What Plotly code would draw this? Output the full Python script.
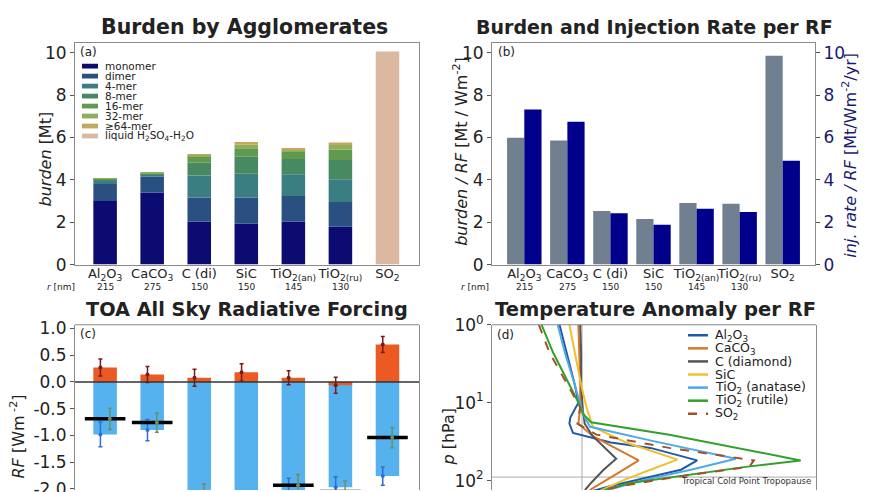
import plotly.graph_objects as go
import numpy as np

W, H = 870, 492
def X(px): return px / W
def Y(py): return 1 - py / H

FONT = "DejaVu Sans"
TXT = "#222222"

# ---------------- data ----------------
categories = ["Al<sub>2</sub>O<sub>3</sub>", "CaCO<sub>3</sub>", "C (di)", "SiC",
              "TiO<sub>2(an)</sub>", "TiO<sub>2(ru)</sub>", "SO<sub>2</sub>"]
radii_nm = ["215", "275", "150", "150", "145", "130", ""]

# (a) burden by agglomerates [Mt]
agg_labels = ["monomer", "dimer", "4-mer", "8-mer", "16-mer", "32-mer", "≥64-mer",
              "liquid H<sub>2</sub>SO<sub>4</sub>-H<sub>2</sub>O"]
monomer = [3.00, 3.40, 2.03, 1.93, 2.03, 1.78, 0]
dimer   = [0.80, 0.75, 1.14, 1.24, 1.21, 1.17, 0]
mer4    = [0.15, 0.10, 1.03, 1.12, 1.02, 1.08, 0]
mer8    = [0.07, 0.05, 0.60, 0.80, 0.72, 0.90, 0]
mer16   = [0.03, 0.02, 0.30, 0.40, 0.36, 0.49, 0]
mer32   = [0.02, 0.01, 0.08, 0.17, 0.09, 0.22, 0]
mer64   = [0.00, 0.00, 0.02, 0.12, 0.07, 0.12, 0]
liquid  = [0, 0, 0, 0, 0, 0, 10.05]
agg_colors = ["#0b0b72", "#2a5082", "#3a7e82", "#478a62", "#619a4e", "#8fae5e", "#c4a85e", "#dbb9a0"]

# (b) burden / RF and injection rate / RF
burden_per_rf  = [5.98, 5.86, 2.53, 2.15, 2.90, 2.87, 9.85]
injrate_per_rf = [7.32, 6.74, 2.42, 1.88, 2.63, 2.48, 4.90]

# (c) TOA all-sky radiative forcing [W m-2]
rf_lw      = [0.27, 0.14, 0.08, 0.18, 0.08, -0.06, 0.70]
rf_lw_err  = [0.16, 0.15, 0.16, 0.16, 0.13, 0.15, 0.15]
rf_sw      = [-0.98, -0.90, -2.60, -2.90, -2.05, -1.97, -1.76]
rf_sw_err  = [0.23, 0.20, 0.22, 0.25, 0.25, 0.20, 0.17]
rf_net     = [-0.69, -0.76, -2.10, -2.70, -1.93, -2.05, -1.04]
rf_net_err = [0.20, 0.18, 0.19, 0.20, 0.20, 0.20, 0.19]

# (d) temperature anomaly per RF profiles (x: anomaly, p: hPa)
al2o3_x = [-0.25, -0.17, -0.08, -0.04, -0.13, -0.14, -0.10, 0.32, 0.76, 1.28, 1.10, 0.69, 0.32, 0.13, 0.05]
al2o3_p = [1.0, 2.29, 5.89, 10.0, 15.5, 18.6, 24.5, 32.4, 38.0, 55.0, 72.4, 93.3, 117, 135, 150]
caco3_x = [-0.04, -0.03, -0.02, -0.02, -0.04, 0.12, 0.63, 0.39, 0.21, 0.10, 0.05]
caco3_p = [1.0, 2.29, 5.89, 11.5, 18.6, 26.9, 55.0, 81.3, 107, 129, 150]
cdia_x  = [-0.02, -0.01, -0.01, 0.01, 0.03, 0.12, 0.38, 0.24, 0.10, 0.04, 0.02]
cdia_p  = [1.0, 2.29, 5.89, 12.6, 18.6, 26.9, 52.5, 72.4, 107, 129, 150]
sic_x   = [-0.14, -0.08, -0.01, 0.05, 0.09, 0.12, 0.49, 1.06, 0.76, 0.47, 0.24, 0.12]
sic_p   = [1.0, 2.29, 5.89, 11.5, 15.5, 20.4, 32.4, 53.7, 72.4, 97.7, 129, 150]
tio2an_x = [-0.27, -0.19, -0.08, -0.01, 0.03, 0.09, 0.78, 1.71, 1.21, 0.69, 0.32, 0.15]
tio2an_p = [1.0, 2.29, 5.89, 11.5, 15.5, 20.4, 30.9, 52.5, 72.4, 97.7, 129, 150]
tio2ru_x = [-0.45, -0.32, -0.14, -0.03, 0.01, 0.10, 0.97, 1.23, 1.71, 2.43, 1.84, 1.06, 0.54, 0.28, 0.15]
tio2ru_p = [1.0, 2.29, 5.89, 10.5, 13.8, 17.8, 25.7, 29.5, 38.0, 55.0, 66.1, 89.1, 107, 129, 150]
so2_x   = [-0.48, -0.36, -0.16, -0.06, -0.02, -0.05, 0.16, 0.97, 1.91, 1.86, 1.06, 0.54, 0.24, 0.12]
so2_p   = [1.0, 2.29, 5.89, 9.55, 11.5, 18.6, 25.7, 38.0, 55.0, 66.1, 89.1, 112, 129, 150]
profile_names = ["Al<sub>2</sub>O<sub>3</sub>", "CaCO<sub>3</sub>", "C (diamond)", "SiC",
                 "TiO<sub>2</sub> (anatase)", "TiO<sub>2</sub> (rutile)", "SO<sub>2</sub>"]
profile_colors = ["#1f5aa6", "#d9772b", "#555555", "#f0c02e", "#4fa8e8", "#33a02c", "#a0522d"]
tropopause_p = 90

xpos = list(range(len(categories)))

fig = go.Figure()

# ---------- (a) stacked bars ----------
layers = [monomer, dimer, mer4, mer8, mer16, mer32, mer64, liquid]
base = np.zeros(len(xpos))
for vals, col, name in zip(layers, agg_colors, agg_labels):
    fig.add_trace(go.Bar(x=xpos, y=vals, base=base.copy(), width=0.5, marker_color=col,
                         marker_line_width=0, name=name, xaxis="x", yaxis="y"))
    base = base + np.array(vals)

# ---------- (b) grouped bars ----------
fig.add_trace(go.Bar(x=xpos, y=burden_per_rf, width=0.4, offset=-0.4, marker_color="#708090",
                     marker_line_width=0, xaxis="x2", yaxis="y2"))
fig.add_trace(go.Bar(x=xpos, y=injrate_per_rf, width=0.4, offset=0.0, marker_color="#00008b",
                     marker_line_width=0, xaxis="x2", yaxis="y5"))

# ---------- (c) RF ----------
fig.add_trace(go.Bar(x=xpos, y=rf_sw, width=0.5, marker_color="#55b2ee", marker_line_width=0,
                     xaxis="x3", yaxis="y3"))
fig.add_trace(go.Bar(x=xpos, y=rf_lw, width=0.5, marker_color="#ea5a22", marker_line_width=0,
                     xaxis="x3", yaxis="y3"))
xl = [p - 0.1 for p in xpos]
xr = [p + 0.1 for p in xpos]
fig.add_trace(go.Scatter(x=xl, y=rf_sw, mode="markers", marker=dict(size=4, color="#2f6fd0"),
                         error_y=dict(type="data", array=rf_sw_err, color="#2f6fd0", thickness=1.5, width=2),
                         xaxis="x3", yaxis="y3"))
fig.add_trace(go.Scatter(x=xl, y=rf_lw, mode="markers", marker=dict(size=4, color="#7a1a1a"),
                         error_y=dict(type="data", array=rf_lw_err, color="#7a1a1a", thickness=1.5, width=2),
                         xaxis="x3", yaxis="y3"))
fig.add_trace(go.Scatter(x=xpos, y=rf_net, mode="markers",
                         marker=dict(symbol="line-ew", size=29, line=dict(width=3.5, color="black")),
                         xaxis="x3", yaxis="y3"))
fig.add_trace(go.Scatter(x=xr, y=rf_net, mode="markers", marker=dict(size=4, color="#6b8e6b"),
                         error_y=dict(type="data", array=rf_net_err, color="#6b8e6b", thickness=1.5, width=2),
                         xaxis="x3", yaxis="y3"))

# ---------- (d) profiles ----------
fig.add_trace(go.Scatter(x=[0, 0], y=[0.9, 200], mode="lines", line=dict(color="#aaaaaa", width=1),
                         xaxis="x4", yaxis="y4"))
fig.add_trace(go.Scatter(x=[-1, 2.6], y=[tropopause_p, tropopause_p], mode="lines",
                         line=dict(color="#aaaaaa", width=1), xaxis="x4", yaxis="y4"))
profiles = [(al2o3_x, al2o3_p), (caco3_x, caco3_p), (cdia_x, cdia_p), (sic_x, sic_p),
            (tio2an_x, tio2an_p), (tio2ru_x, tio2ru_p), (so2_x, so2_p)]
for i, ((px_, pp_), col) in enumerate(zip(profiles, profile_colors)):
    fig.add_trace(go.Scatter(x=px_, y=pp_, mode="lines",
                             line=dict(color=col, width=2, dash="dash" if i == 6 else "solid"),
                             xaxis="x4", yaxis="y4"))

# ---------------- layout ----------------
frame = dict(showline=True, linecolor="#8a8a8a", linewidth=1, mirror=True)
ytick = dict(ticks="outside", ticklen=4, tickcolor="#555", tickfont=dict(size=17, color=TXT, family=FONT),
             showgrid=False, zeroline=False)
xcat = dict(tickvals=xpos, ticktext=categories, ticks="", showgrid=False, zeroline=False, tickangle=0,
            ticklabelstandoff=-3, tickfont=dict(size=13, color=TXT, family=FONT))

xa = X(67); xb = X(411); xc = X(484); xd = X(807)
ytop1, ybot1 = Y(24), Y(256)
ytop2 = Y(319)

fig.update_layout(
    width=W, height=H, margin=dict(l=0, r=0, t=0, b=0),
    paper_bgcolor="white", plot_bgcolor="white", showlegend=False, barmode="overlay",
    font=dict(family=FONT, color=TXT),
    xaxis=dict(domain=[xa, xb], range=[-0.64, 6.67], anchor="y", **xcat, **frame),
    yaxis=dict(domain=[ybot1, ytop1], range=[0, 10.46], tickvals=[0, 2, 4, 6, 8, 10], anchor="x", **ytick, **frame),
    xaxis2=dict(domain=[xc, xd], range=[-0.75, 6.75], anchor="y2", **xcat, **frame),
    yaxis2=dict(domain=[ybot1, ytop1], range=[0, 10.46], tickvals=[0, 2, 4, 6, 8, 10], anchor="x2", **ytick,
                showline=True, linecolor="#8a8a8a", linewidth=1),
    yaxis5=dict(overlaying="y2", side="right", anchor="x2", range=[0, 10.46], tickvals=[0, 2, 4, 6, 8, 10],
                ticks="outside", ticklen=4, tickcolor="#555", showgrid=False, zeroline=False,
                tickfont=dict(size=17, color="#1a1a6e", family=FONT),
                showline=True, linecolor="#8a8a8a", linewidth=1),
    xaxis3=dict(domain=[xa, xb], range=[-0.64, 6.67], anchor="y3", showticklabels=False, ticks="",
                showgrid=False, zeroline=False, showline=False),
    yaxis3=dict(domain=[0, ytop2], range=[-2.02, 1.07], tickvals=[-2.0, -1.5, -1.0, -0.5, 0.0, 0.5, 1.0],
                ticktext=["-2.0", "-1.5", "-1.0", "-0.5", "0.0", "0.5", "1.0"], anchor="x3", **ytick,
                showline=True, linecolor="#8a8a8a", linewidth=1, mirror=True),
    xaxis4=dict(domain=[xc, X(808)], range=[-1, 2.6], anchor="y4", showticklabels=False, ticks="",
                showgrid=False, zeroline=False, showline=False),
    yaxis4=dict(domain=[0, ytop2], type="log", range=[2.12, 0], tickvals=[1, 10, 100],
                ticktext=["10<sup>0</sup>", "10<sup>1</sup>", "10<sup>2</sup>"], anchor="x4", **ytick,
                showline=True, linecolor="#8a8a8a", linewidth=1, mirror=True),
)

shapes = []
# top frame lines of bottom panels
shapes.append(dict(type="line", xref="paper", yref="paper", x0=xa, x1=xb, y0=ytop2, y1=ytop2,
                   line=dict(color="#8a8a8a", width=1)))
shapes.append(dict(type="line", xref="paper", yref="paper", x0=xc, x1=X(808), y0=ytop2, y1=ytop2,
                   line=dict(color="#8a8a8a", width=1)))
# zero line in (c)
shapes.append(dict(type="line", xref="x3 domain", yref="y3", x0=0, x1=1, y0=0, y1=0,
                   line=dict(color="#333333", width=1.5), layer="above"))

ann = []
def text(px, py, s, size, **kw):
    col = kw.pop("color", TXT)
    d = dict(x=X(px), y=Y(py), xref="paper", yref="paper", text=s, showarrow=False,
             xanchor="center", yanchor="middle",
             font=dict(size=size, family=FONT, color=col))
    d.update(kw)
    ann.append(d)

# titles
text(236, 7, "<b>Burden by Agglomerates</b>", 20.5)
text(646, 7, "<b>Burden and Injection Rate per RF</b>", 19)
text(239, 303, "<b>TOA All Sky Radiative Forcing</b>", 19.3)
text(647, 303, "<b>Temperature Anomaly per RF</b>", 19.5)
# panel labels
text(70, 33, "(a)", 12, xanchor="left")
text(488, 33, "(b)", 12, xanchor="left")
text(70, 329, "(c)", 12, xanchor="left")
text(487, 330, "(d)", 12, xanchor="left")
# axis titles
text(37, 146, "<i>burden</i> [Mt]", 16, textangle=-90)
text(453, 138, "<i>burden / RF</i> [Mt / Wm<sup>-2</sup>]", 16, textangle=-90)
text(842, 142, "<i>inj. rate / RF</i> [Mt/Wm<sup>-2</sup>/yr]", 16, textangle=-90, color="#1a1a6e")
text(10, 436, "<i>RF</i> [Wm<sup> -2</sup>]", 16, textangle=-90)
text(441, 436, "<i>p</i> [hPa]", 16, textangle=-90)
# r [nm] rows
text(53, 279, "<i>r</i> [nm]", 9)
text(467, 279, "<i>r</i> [nm]", 9)
for i, r in enumerate(radii_nm):
    if r:
        for xr_ in ("x", "x2"):
            ann.append(dict(x=i, y=Y(279), xref=xr_, yref="paper", text=r, showarrow=False,
                            xanchor="center", yanchor="middle",
                            font=dict(size=9, family=FONT, color=TXT)))

# legend (a)
for i, (lab, col) in enumerate(zip(agg_labels, agg_colors)):
    yc = 48.3 + 10.45 * i
    shapes.append(dict(type="rect", xref="paper", yref="paper", x0=X(74), x1=X(90),
                       y0=Y(yc + 2.5), y1=Y(yc - 2.5), fillcolor=col, line=dict(width=0)))
    text(95, yc, lab, 10.5, xanchor="left")

# legend (d)
for i, (lab, col) in enumerate(zip(profile_names, profile_colors)):
    yc = 330 + 13.7 * i
    shapes.append(dict(type="line", xref="paper", yref="paper", x0=X(680), x1=X(700),
                       y0=Y(yc), y1=Y(yc), line=dict(color=col, width=2.5, dash="dash" if i == 6 else "solid")))
    text(705, yc, lab, 12.5, xanchor="left")

text(805, 483, "Tropical Cold Point Tropopause", 8.5, xanchor="right", color="#333333")

fig.update_layout(shapes=shapes, annotations=ann)
fig.write_html("out.html")
